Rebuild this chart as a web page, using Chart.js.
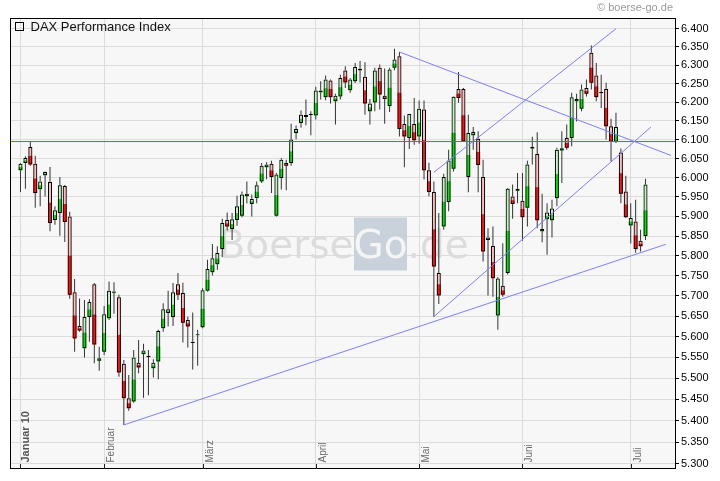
<!DOCTYPE html>
<html>
<head>
<meta charset="utf-8">
<title>DAX Performance Index</title>
<script src="https://cdn.jsdelivr.net/npm/chart.js@4.4.1/dist/chart.umd.min.js"></script>
<style>
    html, body { margin: 0; padding: 0; background: #fff; }
</style>
</head>
<body>
<canvas id="myChart" width="720" height="481"></canvas>
<script>
// Daily candles, 7 Jan - 6 Jul 2010
const open = [
    6019, 6038, 6080, 6036, 5970, 6006, 5989, 5891, 5909, 5978,
    5900, 5709, 5626, 5572, 5648, 5729, 5542, 5564, 5645, 5708,
    5697, 5535, 5453, 5445, 5537, 5558, 5554, 5524, 5540, 5621,
    5658, 5648, 5729, 5707, 5641, 5588, 5604, 5623, 5713, 5759,
    5779, 5817, 5891, 5868, 5891, 5902, 5952, 5932, 5947, 5990,
    6027, 6036, 5902, 5999, 6038, 6038, 6117, 6144, 6160, 6165,
    6164, 6226, 6213, 6258, 6202, 6215, 6285, 6232, 6256, 6290,
    6268, 6175, 6199, 6293, 6217, 6189, 6293, 6324, 6141, 6104,
    6141, 6108, 6180, 6019, 5963, 5757, 5874, 5937, 6023, 6235,
    6235, 6002, 6111, 6102, 6002, 5840, 5825, 5652, 5725, 5757,
    5951, 5966, 5940, 5922, 6076, 6062, 5862, 5893, 5890, 5947,
    6071, 6104, 6104, 6202, 6182, 6238, 6334, 6272, 6227, 6235,
    6135, 6094, 6066, 5964, 5877, 5887, 5838, 5850
];
const high = [
    6038, 6056, 6095, 6057, 6005, 6016, 6028, 5926, 6002, 5981,
    5912, 5742, 5694, 5690, 5692, 5732, 5576, 5675, 5736, 5734,
    5703, 5544, 5508, 5568, 5592, 5583, 5568, 5546, 5617, 5682,
    5713, 5732, 5757, 5733, 5649, 5659, 5617, 5719, 5790, 5830,
    5824, 5894, 5910, 5909, 5953, 5964, 5990, 5956, 5990, 6038,
    6040, 6044, 6012, 6051, 6047, 6142, 6137, 6177, 6207, 6175,
    6241, 6256, 6272, 6261, 6222, 6274, 6297, 6265, 6306, 6311,
    6308, 6208, 6293, 6302, 6291, 6293, 6345, 6336, 6164, 6168,
    6211, 6204, 6204, 6039, 5990, 5909, 6010, 6073, 6215, 6281,
    6238, 6166, 6133, 6122, 6047, 5870, 5874, 5747, 5832, 5973,
    5982, 6012, 6012, 6044, 6107, 6119, 5958, 5934, 5943, 6078,
    6122, 6140, 6225, 6222, 6247, 6261, 6354, 6306, 6274, 6252,
    6155, 6171, 6076, 6005, 5934, 5943, 5866, 5997
];
const low = [
    5963, 5971, 6031, 5922, 5926, 5951, 5862, 5879, 5851, 5835,
    5693, 5564, 5612, 5550, 5588, 5536, 5518, 5556, 5641, 5656,
    5504, 5390, 5423, 5442, 5512, 5454, 5460, 5502, 5498, 5612,
    5625, 5626, 5690, 5586, 5574, 5521, 5530, 5621, 5711, 5751,
    5765, 5797, 5864, 5840, 5876, 5898, 5933, 5900, 5934, 5986,
    5996, 5960, 5900, 5969, 5967, 6031, 6101, 6131, 6138, 6111,
    6153, 6207, 6205, 6196, 6140, 6207, 6238, 6225, 6251, 6253,
    6166, 6140, 6175, 6180, 6142, 6173, 6286, 6108, 6027, 6075,
    6086, 6089, 5995, 5952, 5649, 5680, 5866, 5913, 6016, 6198,
    6094, 5962, 6073, 5962, 5786, 5701, 5698, 5617, 5698, 5753,
    5894, 5934, 5838, 5874, 6034, 5870, 5834, 5803, 5846, 5926,
    5986, 6073, 6082, 6148, 6175, 6215, 6234, 6202, 6184, 6100,
    6042, 6091, 5934, 5896, 5831, 5808, 5811, 5840
];
const close = [
    6036, 6051, 6034, 5960, 5990, 6015, 5883, 5916, 5980, 5886,
    5703, 5596, 5615, 5648, 5685, 5581, 5548, 5655, 5713, 5711,
    5514, 5453, 5429, 5550, 5526, 5567, 5551, 5537, 5614, 5667,
    5667, 5709, 5703, 5634, 5625, 5585, 5606, 5714, 5767, 5794,
    5807, 5883, 5874, 5893, 5926, 5956, 5958, 5945, 5980, 6031,
    6034, 6002, 6008, 6047, 6031, 6100, 6128, 6166, 6165, 6168,
    6231, 6231, 6261, 6213, 6217, 6265, 6253, 6261, 6295, 6286,
    6196, 6196, 6285, 6220, 6208, 6288, 6315, 6128, 6108, 6168,
    6098, 6182, 6019, 5963, 5773, 5701, 6002, 6045, 6214, 6211,
    6095, 6117, 6120, 6033, 5811, 5846, 5744, 5743, 5703, 5971,
    5932, 5971, 5898, 6034, 6081, 5890, 5868, 5910, 5920, 6073,
    6077, 6078, 6213, 6208, 6234, 6222, 6252, 6213, 6224, 6135,
    6094, 6133, 5958, 5898, 5896, 5817, 5824, 5982
];

// month labels sit on the first trading day of the month (candle index)
const monthLabels = ['Januar 10', 'Februar', 'März', 'April', 'Mai', 'Juni', 'Juli'];
const monthStart = [0, 17, 37, 60, 81, 102, 124];

const yTicks = [
    5300, 5350, 5400, 5450, 5500, 5550, 5600, 5650, 5700, 5750, 5800, 5850,
    5900, 5950, 6000, 6050, 6100, 6150, 6200, 6250, 6300, 6350, 6400
];

// drawn lines: horizontal resistance and trend lines [[index, value], [index, value]]
const resistance = 6094.6;
const trendLines = [
    [[21, 5390], [131.1, 5829]],
    [[77, 6336], [132.2, 6058]],
    [[84, 6014], [121, 6400]],
    [[84, 5649], [128.1, 6133]]
];

const xMin = -2.13, xMax = 133.2;

function fmt(v) {
    const s = String(Math.round(v));
    return s.slice(0, -3) + '.' + s.slice(-3);
}

const idx = open.map((o, i) => i);
const up = open.map((o, i) => close[i] >= o);
const bodyLo = open.map((o, i) => Math.min(o, close[i]));
const bodyHi = open.map((o, i) => Math.max(o, close[i]));
const bodyMid = bodyLo.map((lo, i) => Math.sqrt(lo * bodyHi[i]));

const barBase = {
    type: 'bar',
    grouped: false,
    categoryPercentage: 1,
    barPercentage: 1,
    borderSkipped: false,
    inflateAmount: 0
};

const datasets = [
    Object.assign({}, barBase, {
        label: 'wick',
        data: idx.map(i => ({ x: i, y: [low[i], high[i]] })),
        backgroundColor: '#333',
        maxBarThickness: 1,
        order: 5
    }),
    Object.assign({}, barBase, {
        label: 'body lower',
        data: idx.map(i => ({ x: i, y: [bodyLo[i], bodyMid[i]] })),
        backgroundColor: idx.map(i => up[i] ? '#1fcf1f' : '#e81c1c'),
        maxBarThickness: 4,
        order: 4
    }),
    Object.assign({}, barBase, {
        label: 'body upper',
        data: idx.map(i => ({ x: i, y: [bodyMid[i], bodyHi[i]] })),
        backgroundColor: idx.map(i => up[i] ? '#c6f3c6' : '#f7bfbf'),
        maxBarThickness: 4,
        order: 3
    }),
    Object.assign({}, barBase, {
        label: 'body',
        data: idx.map(i => ({ x: i, y: [bodyLo[i], bodyHi[i]] })),
        backgroundColor: 'rgba(0,0,0,0)',
        borderColor: '#000',
        borderWidth: 1,
        maxBarThickness: 4,
        order: 2
    }),
    {
        type: 'line',
        label: 'resistance',
        data: [{ x: xMin, y: resistance }, { x: xMax, y: resistance }],
        borderColor: '#5b5bf0',
        borderWidth: 1,
        pointRadius: 0,
        order: 1
    }
];

trendLines.forEach((t, n) => {
    datasets.push({
        type: 'line',
        label: 'trend ' + n,
        data: t.map(p => ({ x: p[0], y: p[1] })),
        borderColor: '#7f7ff9',
        borderWidth: 1,
        pointRadius: 0,
        order: 0
    });
});

// background, watermark, frame and texts around the plot
const decor = {
    id: 'decor',
    beforeDraw(chart) {
        const { ctx, chartArea: a } = chart;
        ctx.save();
        ctx.fillStyle = '#f7f7f7';
        ctx.fillRect(a.left, a.top, a.right - a.left, a.bottom - a.top);
        ctx.restore();
    },
    beforeDatasetsDraw(chart) {
        const { ctx, chartArea: a } = chart;
        const cx = (a.left + a.right) / 2 + 37.5;
        const cy = (a.top + a.bottom) / 2;
        ctx.save();
        ctx.font = '39px "DejaVu Sans"';
        ctx.textBaseline = 'alphabetic';
        ctx.fillStyle = '#c9d2db';
        ctx.fillRect(cx - 26.5, cy - 26, 53, 53);
        ctx.fillStyle = '#dcdcdc';
        ctx.textAlign = 'right';
        ctx.fillText('Boerse', cx - 27, cy + 14);
        ctx.textAlign = 'left';
        ctx.fillText('.de', cx + 27, cy + 14);
        ctx.fillStyle = '#f5f5f5';
        ctx.textAlign = 'center';
        ctx.fillText('Go', cx, cy + 14);
        ctx.restore();
    },
    afterDraw(chart) {
        const { ctx, chartArea: a } = chart;
        const xs = chart.scales.x;
        ctx.save();

        // frame
        ctx.strokeStyle = '#000';
        ctx.lineWidth = 1;
        ctx.strokeRect(a.left + 0.5, a.top + 0.5, a.right - a.left - 1, a.bottom - a.top - 1);

        // month ticks and rotated labels
        monthStart.forEach((m, k) => {
            const x = Math.round(xs.getPixelForValue(m)) + 0.5;
            ctx.strokeStyle = '#222';
            ctx.beginPath();
            ctx.moveTo(x, a.bottom - 5);
            ctx.lineTo(x, a.bottom);
            ctx.stroke();

            ctx.save();
            ctx.translate(x + (k === 0 ? 5.5 : 6.5), a.bottom - 6.5);
            ctx.rotate(-Math.PI / 2);
            ctx.textAlign = 'left';
            ctx.textBaseline = 'middle';
            ctx.font = k === 0 ? 'bold 11px "Liberation Sans"' : '10px "Liberation Sans"';
            ctx.fillStyle = k === 0 ? '#555' : '#6a6a6a';
            ctx.fillText(monthLabels[k], 0, 0);
            ctx.restore();
        });

        // legend entry
        ctx.strokeStyle = '#000';
        ctx.strokeRect(15.5, 22.5, 8, 8);
        ctx.fillStyle = '#111';
        ctx.font = '13px "Liberation Sans"';
        ctx.textAlign = 'left';
        ctx.textBaseline = 'alphabetic';
        ctx.fillText('DAX Performance Index', 30.5, 31);

        // source note
        ctx.fillStyle = '#9a9a9a';
        ctx.font = '11px "Liberation Sans"';
        ctx.textAlign = 'right';
        ctx.fillText('\u00a9 boerse-go.de', 673, 11);

        ctx.restore();
    }
};

const ctx = document.getElementById('myChart');

const myChart = new Chart(ctx, {
    type: 'bar',
    data: { datasets: datasets },
    options: {
        responsive: false,
        animation: false,
        events: [],
        layout: { padding: { left: 10, top: 18, right: 0, bottom: 0 } },
        plugins: {
            legend: { display: false },
            tooltip: { enabled: false }
        },
        scales: {
            x: {
                type: 'linear',
                bounds: 'data',
                offset: false,
                min: xMin,
                max: xMax,
                afterBuildTicks: s => { s.ticks = monthStart.map(v => ({ value: v })); },
                afterFit: s => { s.height = 12; },
                ticks: { display: false },
                grid: { color: '#dcdcdc', drawTicks: false, offset: false },
                border: { display: false }
            },
            y: {
                type: 'logarithmic',
                position: 'right',
                bounds: 'data',
                min: 5288,
                max: 6430,
                afterBuildTicks: s => { s.ticks = yTicks.map(v => ({ value: v })); },
                afterFit: s => { s.width = 44; },
                ticks: {
                    color: '#000',
                    autoSkip: false,
                    padding: 2,
                    font: { family: 'Liberation Sans', size: 11 },
                    callback: v => fmt(v)
                },
                grid: { color: '#dcdcdc', tickColor: '#000', tickLength: 3 },
                border: { display: false }
            }
        }
    },
    plugins: [decor]
});
</script>
</body>
</html>
